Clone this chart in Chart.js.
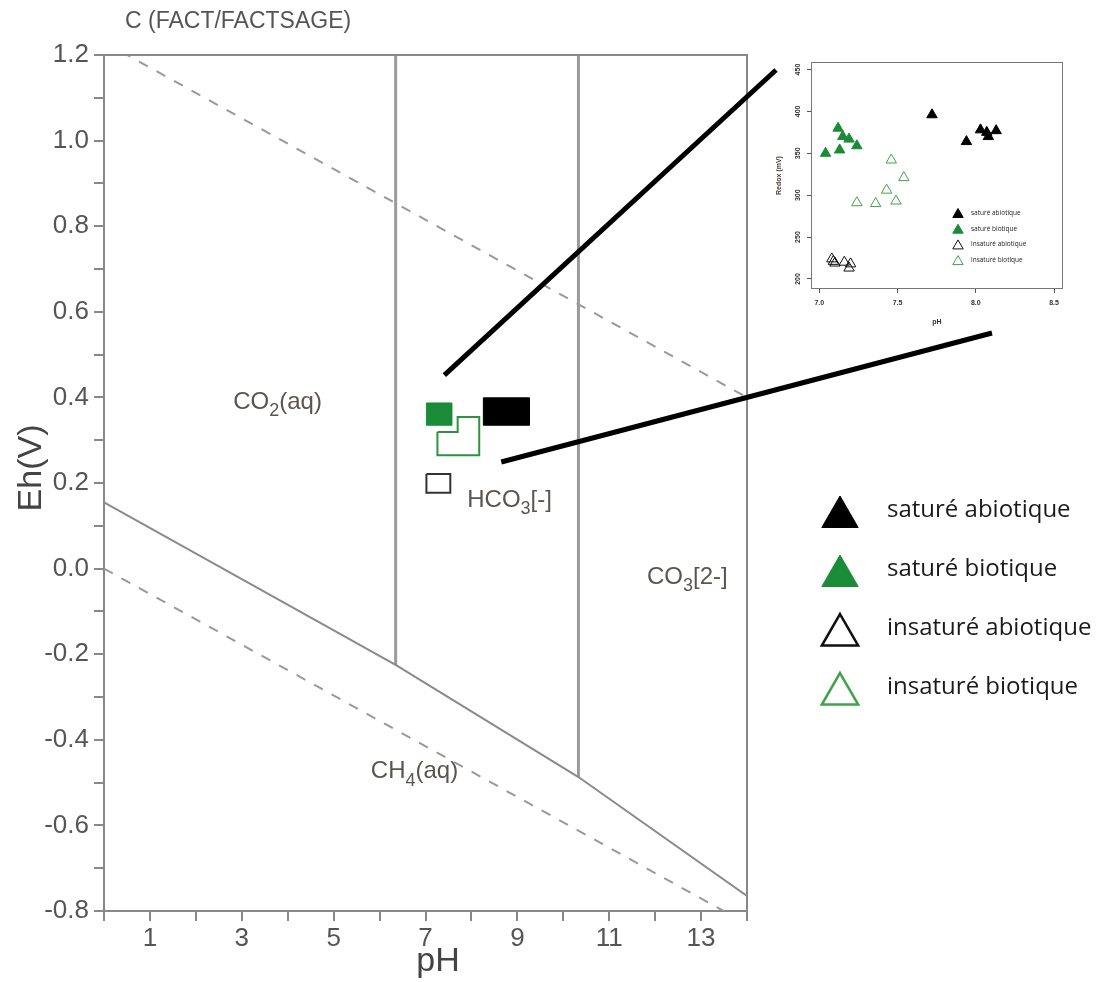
<!DOCTYPE html>
<html>
<head>
<meta charset="utf-8">
<script src="https://cdn.jsdelivr.net/npm/chart.js@4.4.1/dist/chart.umd.min.js"></script>
<style>
  body { margin: 0; background: #fff; overflow: hidden; }
  #main { position: absolute; left: 0; top: 0; }
  #inset { position: absolute; left: 770px; top: 50px; }
</style>
</head>
<body>
<canvas id="main" width="1103" height="982"></canvas>
<canvas id="inset" width="300" height="290"></canvas>
<script>
// ---- main Eh-pH diagram data ----
const xTickLabels = ['1', '3', '5', '7', '9', '11', '13'];
const yTickLabels = ['-0.8', '-0.6', '-0.4', '-0.2', '0.0', '0.2', '0.4', '0.6', '0.8', '1.0', '1.2'];

// water stability limits (dashed)
const o2LinePH = [0, 14];
const o2LineEh = [1.23, 0.40];
const h2LinePH = [0, 14];
const h2LineEh = [0.0, -0.83];
// C species boundaries (solid)
const redoxPH = [0, 6.35, 10.33, 14];
const redoxEh = [0.155, -0.225, -0.487, -0.765];
const co2HcoPH = [6.35, 6.35];
const co2HcoEh = [1.2, -0.225];
const hcoCo3PH = [10.33, 10.33];
const hcoCo3Eh = [1.2, -0.487];

// sample ranges drawn on the diagram
const satBioBoxPH = [7.02, 7.57, 7.57, 7.02, 7.02];
const satBioBoxEh = [0.387, 0.387, 0.335, 0.335, 0.387];
const satAbioBoxPH = [8.26, 9.26, 9.26, 8.26, 8.26];
const satAbioBoxEh = [0.399, 0.399, 0.335, 0.335, 0.399];
const insBioBoxPH = [7.26, 7.70, 7.70, 8.17, 8.17, 7.26, 7.26];
const insBioBoxEh = [0.319, 0.319, 0.354, 0.354, 0.265, 0.265, 0.319];
const insAbioBoxPH = [7.02, 7.54, 7.54, 7.02, 7.02];
const insAbioBoxEh = [0.221, 0.221, 0.177, 0.177, 0.221];

// field labels: [main, subscript, rest]
const regionNames = [['CO', '2', '(aq)'], ['HCO', '3', '[-]'], ['CO', '3', '[2-]'], ['CH', '4', '(aq)']];
const regionPH = [3.78, 8.83, 12.7, 6.76];
const regionEh = [0.394, 0.165, -0.015, -0.47];

// ---- inset (Redox vs pH) data ----
const insetXTicks = [7.0, 7.5, 8.0, 8.5];
const insetYTicks = [200, 250, 300, 350, 400, 450];
const seriesNames = ['saturé abiotique', 'saturé biotique', 'insaturé abiotique', 'insaturé biotique'];
const satAbioPH = [7.72, 7.94, 8.03, 8.07, 8.08, 8.13];
const satAbioEh = [396, 364, 378, 375, 370, 377];
const satBioPH = [7.04, 7.12, 7.13, 7.15, 7.19, 7.24];
const satBioEh = [350, 380, 354, 370, 367, 359];
const insAbioPH = [7.08, 7.09, 7.10, 7.16, 7.19, 7.20];
const insAbioEh = [224, 221, 219, 220, 213, 218];
const insBioPH = [7.24, 7.36, 7.43, 7.46, 7.49, 7.54];
const insBioEh = [291, 290, 306, 342, 293, 321];

const FONT = '"Liberation Sans", Arial, sans-serif';
const LEGEND_FONT = '"Open Sans", "Noto Sans", sans-serif';
const GREEN = '#1a8c38';
const LIGHT_GREEN = '#3fa34d';
const seriesColors = ['#000000', GREEN, '#111111', LIGHT_GREEN];
const seriesFilled = [true, true, false, false];

function pts(xs, ys) {
    return xs.map((v, i) => ({ x: v, y: ys[i] }));
}

function lineSet(xs, ys, color, width, dash) {
    return {
        data: pts(xs, ys),
        showLine: true,
        borderColor: color,
        borderWidth: width,
        borderDash: dash || [],
        pointRadius: 0,
        fill: false
    };
}

function boxSet(xs, ys, color, filled) {
    return {
        data: pts(xs, ys),
        showLine: true,
        borderColor: color,
        backgroundColor: filled ? color : 'rgba(0,0,0,0)',
        borderWidth: filled ? 1 : 2,
        pointRadius: 0,
        fill: filled ? 'shape' : false,
        tension: 0
    };
}

function drawChem(ctx, parts, cx, cy, size) {
    const big = size + 'px ' + FONT;
    const small = Math.round(size * 0.75) + 'px ' + FONT;
    ctx.font = big;
    const wa = ctx.measureText(parts[0]).width;
    const wb = ctx.measureText(parts[2]).width;
    ctx.font = small;
    const ws = ctx.measureText(parts[1]).width;
    let xx = cx - (wa + ws + wb) / 2;
    const base = cy + size * 0.36;
    ctx.textAlign = 'left';
    ctx.textBaseline = 'alphabetic';
    ctx.font = big;
    ctx.fillText(parts[0], xx, base);
    xx += wa;
    ctx.font = small;
    ctx.fillText(parts[1], xx, base + size * 0.3);
    xx += ws;
    ctx.font = big;
    ctx.fillText(parts[2], xx, base);
}

function drawMarker(ctx, i, x, y, r, lw) {
    ctx.save();
    ctx.fillStyle = seriesFilled[i] ? seriesColors[i] : '#fff';
    ctx.strokeStyle = seriesColors[i];
    ctx.lineWidth = lw;
    Chart.helpers.drawPoint(ctx, { pointStyle: 'triangle', radius: r, rotation: 0, borderWidth: lw }, x, y);
    ctx.restore();
}

const phaseDecor = {
    id: 'phaseDecor',
    afterDraw(chart) {
        const { ctx, chartArea: a, scales: { x, y } } = chart;
        ctx.save();
        // top and right frame
        ctx.strokeStyle = '#888';
        ctx.lineWidth = 2;
        ctx.beginPath();
        ctx.moveTo(a.left, a.top);
        ctx.lineTo(a.right, a.top);
        ctx.lineTo(a.right, a.bottom);
        ctx.stroke();

        // title
        ctx.fillStyle = '#555';
        ctx.font = '23px ' + FONT;
        ctx.textAlign = 'left';
        ctx.textBaseline = 'middle';
        ctx.fillText('C (FACT/FACTSAGE)', 125, 22);

        // axis titles
        ctx.fillStyle = '#444';
        ctx.font = '34px ' + FONT;
        ctx.textAlign = 'center';
        ctx.fillText('pH', 438, 962);
        ctx.save();
        ctx.translate(32, 468);
        ctx.rotate(-Math.PI / 2);
        ctx.fillText('Eh(V)', 0, 0);
        ctx.restore();

        // field names
        ctx.fillStyle = '#5a5550';
        regionNames.forEach((parts, i) => {
            drawChem(ctx, parts, x.getPixelForValue(regionPH[i]), y.getPixelForValue(regionEh[i]), 24);
        });

        // zoom connector lines towards the inset
        ctx.strokeStyle = '#000';
        ctx.lineWidth = 5;
        ctx.beginPath();
        ctx.moveTo(x.getPixelForValue(7.41), y.getPixelForValue(0.452));
        ctx.lineTo(776, 70);
        ctx.moveTo(x.getPixelForValue(8.65), y.getPixelForValue(0.249));
        ctx.lineTo(992, 333);
        ctx.stroke();

        // big legend
        seriesNames.forEach((name, i) => {
            const cy = 510 + i * 59;
            drawMarker(ctx, i, 840, cy + 7, 21, i < 2 ? 1 : 2.5);
            ctx.fillStyle = '#1a1a1a';
            ctx.font = '24px ' + LEGEND_FONT;
            ctx.textAlign = 'left';
            ctx.textBaseline = 'middle';
            ctx.fillText(name, 887, cy);
        });
        ctx.restore();
    }
};

new Chart(document.getElementById('main').getContext('2d'), {
    type: 'scatter',
    data: {
        datasets: [
            boxSet(satBioBoxPH, satBioBoxEh, GREEN, true),
            boxSet(satAbioBoxPH, satAbioBoxEh, '#000', true),
            boxSet(insBioBoxPH, insBioBoxEh, '#2a9440', false),
            boxSet(insAbioBoxPH, insAbioBoxEh, '#333', false),
            lineSet(redoxPH, redoxEh, '#8a8a8a', 2),
            lineSet(co2HcoPH, co2HcoEh, '#9a9a9a', 3),
            lineSet(hcoCo3PH, hcoCo3Eh, '#9a9a9a', 3),
            lineSet(o2LinePH, o2LineEh, '#999', 2, [10, 10]),
            lineSet(h2LinePH, h2LineEh, '#999', 2, [10, 10])
        ]
    },
    options: {
        responsive: false,
        animation: false,
        layout: { padding: { top: 55, right: 356, left: 0, bottom: 0 } },
        plugins: { legend: { display: false }, tooltip: { enabled: false } },
        scales: {
            x: {
                min: 0, max: 14,
                afterFit: (s) => { s.height = 71; },
                grid: { drawOnChartArea: false, tickLength: 10, color: '#888', lineWidth: 2 },
                border: { color: '#888', width: 2 },
                ticks: {
                    stepSize: 1, autoSkip: false, maxRotation: 0, padding: 2,
                    color: '#555', font: { family: FONT, size: 26 },
                    callback: (v) => xTickLabels.includes(String(v)) ? String(v) : ''
                },
                title: { display: false, text: 'pH' }
            },
            y: {
                min: -0.8, max: 1.2,
                afterFit: (s) => { s.width = 104; },
                grid: { drawOnChartArea: false, tickLength: 10, color: '#888', lineWidth: 2 },
                border: { color: '#888', width: 2 },
                ticks: {
                    stepSize: 0.1, autoSkip: false, padding: 5,
                    color: '#555', font: { family: FONT, size: 26 },
                    callback: (v) => yTickLabels.find(t => Math.abs(parseFloat(t) - v) < 1e-6) || ''
                },
                title: { display: false, text: 'Eh(V)' }
            }
        }
    },
    plugins: [phaseDecor]
});

// ---- inset ----
const insetDecor = {
    id: 'insetDecor',
    afterDraw(chart) {
        const { ctx, chartArea: a } = chart;
        ctx.save();
        ctx.strokeStyle = '#777';
        ctx.lineWidth = 1;
        ctx.strokeRect(a.left + 0.5, a.top + 0.5, a.width - 1, a.height - 1);
        seriesNames.forEach((name, i) => {
            const cy = a.top + 151 + i * 15.7;
            drawMarker(ctx, i, a.left + 147, cy + 1.5, 6, 1);
            ctx.fillStyle = '#222';
            ctx.font = '6.5px ' + LEGEND_FONT;
            ctx.textAlign = 'left';
            ctx.textBaseline = 'middle';
            ctx.fillText(name, a.left + 160, cy);
        });
        ctx.restore();
    }
};

function insetSet(xs, ys, i) {
    return {
        label: seriesNames[i],
        data: pts(xs, ys),
        pointStyle: 'triangle',
        pointRadius: 6,
        borderWidth: 1,
        borderColor: seriesColors[i],
        backgroundColor: seriesFilled[i] ? seriesColors[i] : 'rgba(0,0,0,0)'
    };
}

new Chart(document.getElementById('inset').getContext('2d'), {
    type: 'scatter',
    data: {
        datasets: [
            insetSet(satAbioPH, satAbioEh, 0),
            insetSet(satBioPH, satBioEh, 1),
            insetSet(insAbioPH, insAbioEh, 2),
            insetSet(insBioPH, insBioEh, 3)
        ]
    },
    options: {
        responsive: false,
        animation: false,
        layout: { padding: { top: 12, right: 6, left: 0, bottom: 0 } },
        plugins: { legend: { display: false }, tooltip: { enabled: false } },
        scales: {
            x: {
                min: 6.947, max: 8.557,
                afterFit: (s) => { s.height = 51; },
                afterBuildTicks: (s) => { s.ticks = insetXTicks.map(v => ({ value: v })); },
                grid: { drawOnChartArea: false, tickLength: 4, color: '#555' },
                border: { display: false },
                ticks: {
                    autoSkip: false, maxRotation: 0, padding: 6,
                    color: '#333', font: { family: FONT, size: 7, weight: 'bold' },
                    callback: (v) => v.toFixed(1)
                },
                title: { display: true, text: 'pH', color: '#333', font: { family: FONT, size: 7, weight: 'bold' }, padding: { top: 0, bottom: 14 } }
            },
            y: {
                min: 188, max: 459,
                afterFit: (s) => { s.width = 41; },
                afterBuildTicks: (s) => { s.ticks = insetYTicks.map(v => ({ value: v })); },
                grid: { drawOnChartArea: false, tickLength: 4, color: '#555' },
                border: { display: false },
                ticks: {
                    autoSkip: false, minRotation: 90, maxRotation: 90, crossAlign: 'center', padding: 3,
                    color: '#333', font: { family: FONT, size: 7, weight: 'bold' },
                    callback: (v) => String(v)
                },
                title: { display: true, text: 'Redox (mV)', color: '#4a4030', font: { family: FONT, size: 7, weight: 'bold' }, padding: { top: 5, bottom: 0 } }
            }
        }
    },
    plugins: [insetDecor]
});
</script>
</body>
</html>
